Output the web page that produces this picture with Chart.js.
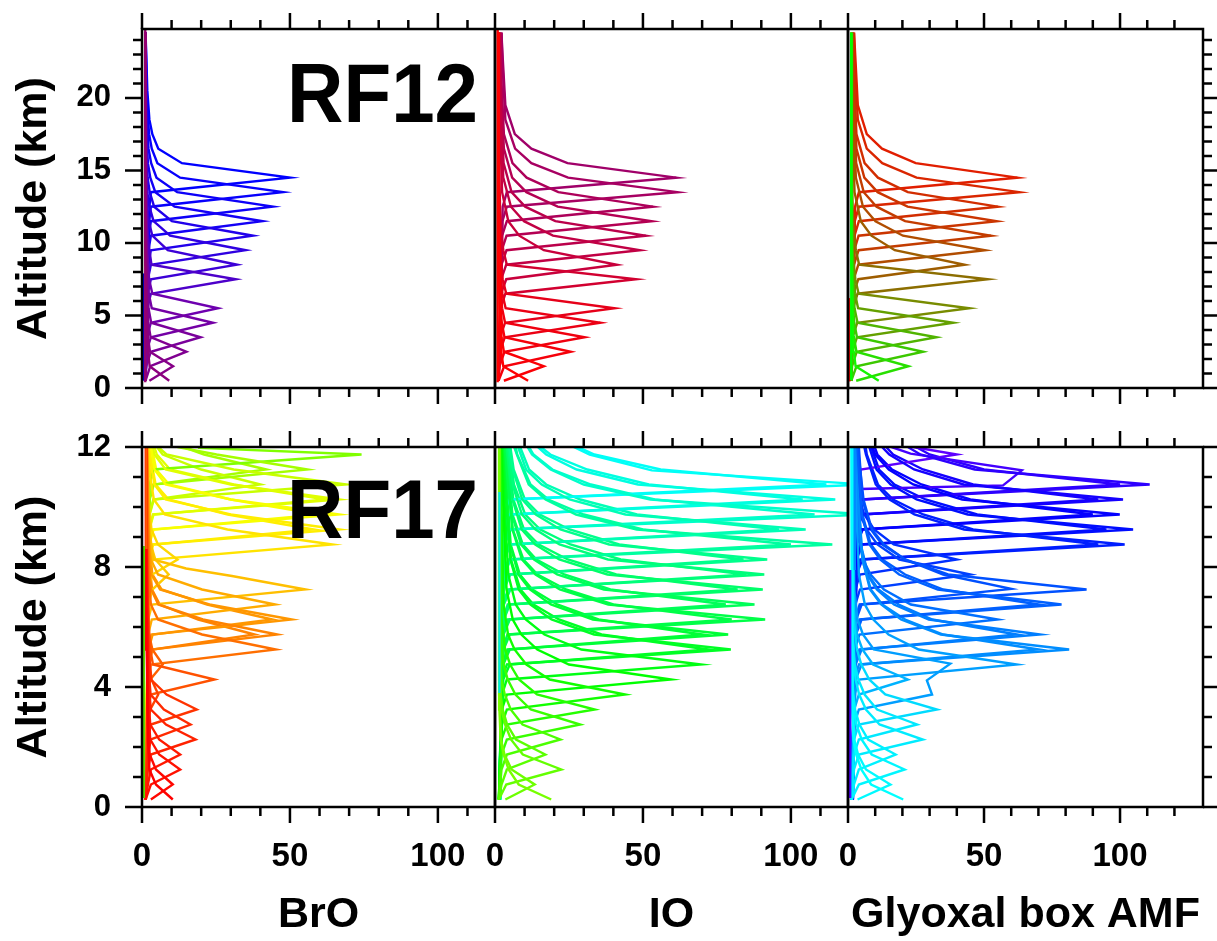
<!DOCTYPE html>
<html><head><meta charset="utf-8">
<script src="https://cdn.jsdelivr.net/npm/chart.js@4.4.1/dist/chart.umd.min.js"></script>
<style>
html,body{margin:0;padding:0;background:#fff;}
#wrap{position:relative;width:1217px;height:941px;overflow:hidden;background:#fff;}
canvas{position:absolute;left:0;top:0;}
.rf{position:absolute;font:bold 84px "Liberation Sans",Arial,sans-serif;line-height:84px;color:#000;transform:scaleX(0.93);transform-origin:0 0;white-space:nowrap;z-index:5;}
</style></head><body>
<div id="wrap">
<canvas id="c0" width="1217" height="941"></canvas>
<canvas id="c1" width="1217" height="941"></canvas>
<canvas id="c2" width="1217" height="941"></canvas>
<canvas id="c3" width="1217" height="941"></canvas>
<canvas id="c4" width="1217" height="941"></canvas>
<canvas id="c5" width="1217" height="941"></canvas>
<div class="rf" style="left:287px;top:51px">RF12</div>
<div class="rf" style="left:287px;top:467px">RF17</div>
</div>
<script>
// ===== DATA: each profile is a list of [box AMF, altitude km] =====
const yTicks12 = [0, 5, 10, 15, 20];
const yTicks17 = [0, 4, 8, 12];
const xTicks = [0, 50, 100];
const xTitles = ['BrO', 'IO', 'Glyoxal box AMF'];
const yTitle = 'Altitude (km)';
const flightLabels = ['RF12', 'RF17'];

const bro12 = [
 [[9.2,0.5],[2.6,1.5],[2.0,2.5],[1.6,4.5],[1.3,8.5],[1.2,24.5]],
 [[2.5,0.5],[10.5,1.5],[2.7,2.5],[2.0,3.5],[1.6,5.5],[1.3,9.5],[1.2,24.5]],
 [[1.2,0.5],[2.8,1.5],[15,2.5],[2.9,3.5],[2.1,4.5],[1.6,6.5],[1.3,10.5],[1.2,24.5]],
 [[1.2,0.5],[1.4,1.5],[3.0,2.5],[19.8,3.5],[3.1,4.5],[2.2,5.5],[1.7,7.5],[1.3,11.5],[1.2,24.5]],
 [[1.2,0.5],[1.5,2.5],[3.0,3.5],[24,4.5],[3.3,5.5],[2.3,6.5],[1.7,8.5],[1.4,11.5],[1.2,24.5]],
 [[1.2,0.5],[1.6,3.5],[3.0,4.5],[25.7,5.5],[3.5,6.5],[2.4,7.5],[1.8,9.5],[1.4,12.5],[1.2,24.5]],
 [[1.2,0.5],[1.8,5.5],[3.0,6.5],[31.7,7.5],[3.2,8.5],[2.5,9.5],[2.0,10.5],[1.6,12.5],[1.2,24.5]],
 [[1.2,0.5],[1.9,6.5],[3.0,7.5],[32.1,8.5],[8.7,9.5],[3.5,10.5],[2.3,11.5],[1.7,12.5],[1.4,14.5],[1.2,24.5]],
 [[1.2,0.5],[2.0,7.5],[3.0,8.5],[35,9.5],[9.5,10.5],[3.9,11.5],[2.5,12.5],[1.8,13.5],[1.5,15.5],[1.2,24.5]],
 [[1.2,0.5],[2.1,8.5],[3.0,9.5],[37.5,10.5],[10.1,11.5],[4.1,12.5],[2.6,13.5],[1.9,14.5],[1.5,16.5],[1.2,24.5]],
 [[1.2,0.5],[2.2,9.5],[3.0,10.5],[40.7,11.5],[11.0,12.5],[4.5,13.5],[2.8,14.5],[2.0,15.5],[1.5,17.5],[1.2,24.5]],
 [[1.2,0.5],[2.3,10.5],[3.0,11.5],[44.2,12.5],[11.9,13.5],[4.9,14.5],[3.1,15.5],[2.2,16.5],[1.6,18.5],[1.2,24.5]],
 [[1.2,0.5],[2.4,11.5],[3.0,12.5],[47.6,13.5],[12.9,14.5],[5.2,15.5],[3.3,16.5],[2.4,17.5],[1.7,19.5],[1.2,24.5]],
 [[1.2,0.5],[2.5,12.5],[3.0,13.5],[50,14.5],[13.5,15.5],[5.5,16.5],[3.5,17.5],[2.5,18.5],[1.8,20.5],[1.2,24.5]]
];
const io12 = [
 [[11.2,0.5],[2.8,1.5],[2.1,2.5],[1.9,3.5],[1.6,5.5],[1.3,9.5],[1.2,24.5]],
 [[3.0,0.5],[16.5,1.5],[3.0,2.5],[2.2,3.5],[1.9,4.5],[1.6,6.5],[1.3,10.5],[1.2,24.5]],
 [[1.2,0.5],[3.1,1.5],[25.6,2.5],[3.2,3.5],[2.3,4.5],[1.9,5.5],[1.6,7.5],[1.3,11.5],[1.2,24.5]],
 [[1.2,0.5],[1.5,1.5],[3.2,2.5],[30.3,3.5],[3.4,4.5],[2.4,5.5],[2.0,6.5],[1.6,8.5],[1.3,12.5],[1.2,24.5]],
 [[1.2,0.5],[1.6,2.5],[3.3,3.5],[35.6,4.5],[3.6,5.5],[2.5,6.5],[2.0,7.5],[1.6,9.5],[1.3,13.5],[1.2,24.5]],
 [[1.2,0.5],[1.7,3.5],[3.4,4.5],[40.4,5.5],[3.8,6.5],[2.6,7.5],[2.1,8.5],[1.6,10.5],[1.3,14.5],[1.2,24.5]],
 [[1.2,0.5],[1.9,5.5],[3.5,6.5],[47.7,7.5],[4.0,8.5],[2.8,9.5],[2.2,10.5],[1.7,12.5],[1.3,16.5],[1.2,24.5]],
 [[1.2,0.5],[2.0,6.5],[3.8,7.5],[41.2,8.5],[16.5,9.5],[8.2,10.5],[4.5,11.5],[2.4,13.5],[1.8,17.5],[1.5,24.5]],
 [[1.2,0.5],[2.1,7.5],[3.8,8.5],[49,9.5],[19.6,10.5],[9.8,11.5],[5.4,12.5],[2.8,14.5],[2.0,18.5],[1.6,24.5]],
 [[1.2,0.5],[2.2,8.5],[3.9,9.5],[51,10.5],[20.4,11.5],[10.2,12.5],[5.6,13.5],[2.9,15.5],[2.0,19.5],[1.7,24.5]],
 [[1.2,0.5],[2.3,9.5],[3.9,10.5],[53,11.5],[21.2,12.5],[10.6,13.5],[5.8,14.5],[3.0,16.5],[2.1,20.5],[1.8,24.5]],
 [[1.2,0.5],[2.4,10.5],[4.0,11.5],[53.4,12.5],[21.4,13.5],[10.7,14.5],[5.9,15.5],[3.0,17.5],[2.1,21.5],[1.9,24.5]],
 [[1.2,0.5],[2.5,11.5],[4.0,12.5],[61.7,13.5],[24.7,14.5],[12.3,15.5],[6.8,16.5],[3.5,18.5],[2.5,22.5],[2.2,24.5]],
 [[1.2,0.5],[2.6,12.5],[4.0,13.5],[61.3,14.5],[24.5,15.5],[12.3,16.5],[6.7,17.5],[3.5,19.5],[2.4,23.5],[2.2,24.5]]
];
const gly12 = [
 [[11.3,0.5],[2.8,1.5],[2.1,2.5],[1.9,3.5],[1.6,5.5],[1.3,9.5],[1.2,24.5]],
 [[3.0,0.5],[22.2,1.5],[3.1,2.5],[2.2,3.5],[1.9,4.5],[1.6,6.5],[1.3,10.5],[1.2,24.5]],
 [[1.2,0.5],[3.1,1.5],[27.6,2.5],[3.3,3.5],[2.3,4.5],[1.9,5.5],[1.6,7.5],[1.3,11.5],[1.2,24.5]],
 [[1.2,0.5],[1.5,1.5],[3.2,2.5],[32.5,3.5],[3.5,4.5],[2.4,5.5],[2.0,6.5],[1.6,8.5],[1.3,12.5],[1.2,24.5]],
 [[1.2,0.5],[1.6,2.5],[3.3,3.5],[38.7,4.5],[3.7,5.5],[2.6,6.5],[2.0,7.5],[1.6,9.5],[1.3,13.5],[1.2,24.5]],
 [[1.2,0.5],[1.7,3.5],[3.4,4.5],[44.6,5.5],[3.9,6.5],[2.7,7.5],[2.1,8.5],[1.6,10.5],[1.3,14.5],[1.2,24.5]],
 [[1.2,0.5],[1.9,5.5],[3.5,6.5],[51.4,7.5],[4.1,8.5],[2.9,9.5],[2.2,10.5],[1.7,12.5],[1.3,16.5],[1.2,24.5]],
 [[1.2,0.5],[2.0,6.5],[3.8,7.5],[42.9,8.5],[17.2,9.5],[8.6,10.5],[4.7,11.5],[2.4,13.5],[1.8,17.5],[1.5,24.5]],
 [[1.2,0.5],[2.1,7.5],[3.8,8.5],[50.4,9.5],[20.2,10.5],[10.1,11.5],[5.5,12.5],[2.9,14.5],[2.0,18.5],[1.6,24.5]],
 [[1.2,0.5],[2.2,8.5],[3.9,9.5],[52.6,10.5],[21.0,11.5],[10.5,12.5],[5.8,13.5],[3.0,15.5],[2.1,19.5],[1.7,24.5]],
 [[1.2,0.5],[2.3,9.5],[3.9,10.5],[54.7,11.5],[21.9,12.5],[10.9,13.5],[6.0,14.5],[3.1,16.5],[2.2,20.5],[1.8,24.5]],
 [[1.2,0.5],[2.4,10.5],[4.0,11.5],[55.1,12.5],[22.0,13.5],[11.0,14.5],[6.1,15.5],[3.1,17.5],[2.2,21.5],[1.9,24.5]],
 [[1.2,0.5],[2.5,11.5],[4.0,12.5],[63,13.5],[25.2,14.5],[12.6,15.5],[6.9,16.5],[3.6,18.5],[2.5,22.5],[2.2,24.5]],
 [[1.2,0.5],[2.6,12.5],[4.0,13.5],[62.3,14.5],[24.9,15.5],[12.5,16.5],[6.9,17.5],[3.6,19.5],[2.5,23.5],[2.2,24.5]]
];
const bro12v = [[[1.1,0.4],[1.1,24.7]], [[0.5,0.5],[0.5,7.9]]];
const io12v  = [[[0.9,0.4],[0.9,24.7]]];
const gly12v = [[[1.2,0.55],[1.2,24.5]], [[0.5,0.45],[0.5,6.2]]];

const bro17 = [
 [[10.4,0.25],[4.7,0.75],[2.5,1.25],[2.0,2.25],[1.6,5.25],[1.4,12]],
 [[3.0,0.25],[10.4,0.75],[4.7,1.25],[2.6,1.75],[2.0,2.75],[1.6,6.25],[1.4,12]],
 [[1.2,0.25],[3.0,0.75],[12.9,1.25],[5.8,1.75],[2.8,2.25],[2.0,3.25],[1.6,6.75],[1.4,12]],
 [[1.2,0.25],[2.0,0.75],[3.0,1.25],[12.9,1.75],[5.8,2.25],[2.8,2.75],[2.0,3.75],[1.6,7.25],[1.4,12]],
 [[1.2,0.25],[2.0,1.25],[3.0,1.75],[18.1,2.25],[8.1,2.75],[3.0,3.25],[2.1,4.25],[1.6,7.75],[1.4,12]],
 [[1.2,0.25],[2.0,1.75],[3.0,2.25],[16.4,2.75],[7.4,3.25],[2.9,3.75],[2.1,4.75],[1.6,8.25],[1.4,12]],
 [[1.2,0.25],[2.0,2.25],[3.0,2.75],[18.5,3.25],[8.3,3.75],[3.0,4.25],[2.1,5.25],[1.6,8.75],[1.4,12]],
 [[1.2,0.25],[2.0,2.75],[2.8,3.25],[5.5,3.75],[3.2,4.25],[2.2,5.25],[1.6,9.25],[1.4,12]],
 [[1.2,0.25],[2.0,3.25],[3.0,3.75],[24.5,4.25],[3.7,4.75],[2.8,5.25],[2.1,6.25],[1.6,9.75],[1.4,12]],
 [[1.2,0.25],[2.0,3.75],[2.8,4.25],[7.0,4.75],[3.5,5.25],[2.4,5.75],[1.7,8.25],[1.4,12]],
 [[1.2,0.25],[2.0,4.25],[3.0,4.75],[45.2,5.25],[20.3,5.75],[5.4,6.25],[3.0,6.75],[2.2,7.75],[1.6,12]],
 [[1.2,0.25],[2.0,4.75],[3.2,5.25],[45.7,5.75],[20.6,6.25],[5.5,6.75],[3.1,7.25],[2.2,8.25],[1.6,12]],
 [[1.2,0.25],[2.0,5.25],[3.2,5.75],[50.6,6.25],[22.8,6.75],[6.1,7.25],[3.2,7.75],[2.3,8.75],[1.7,12]],
 [[1.2,0.25],[2.1,5.75],[3.3,6.25],[45,6.75],[20.3,7.25],[5.4,7.75],[3.0,8.25],[2.2,9.25],[1.7,12]],
 [[1.2,0.25],[2.1,6.25],[3.4,6.75],[55.2,7.25],[30.4,7.7],[14.9,7.95],[3.8,8.25],[2.5,9.25],[1.8,12]],
 [[1.2,0.25],[2.2,6.75],[3.5,7.25],[9,7.75],[4.5,8.25],[3.0,8.75],[2.0,10.25],[1.8,12]],
 [[1.2,0.25],[2.2,7.25],[3.5,7.75],[12,8.25],[5.4,8.75],[3.2,9.25],[2.2,10.25],[1.8,12]],
 [[1.2,0.25],[2.3,7.75],[3.6,8.25],[64.3,8.75],[28.9,9.25],[7.7,9.75],[4.0,10.25],[2.8,11.0],[2.0,12]],
 [[1.2,0.25],[2.3,8.25],[3.6,8.75],[66.6,9.25],[30,9.75],[8,10.25],[4.2,10.75],[2.9,11.5],[2.2,12]],
 [[1.2,0.25],[2.4,8.75],[3.7,9.25],[66.6,9.75],[30,10.25],[8,10.75],[4.2,11.25],[3.0,12]],
 [[1.2,0.25],[2.4,9.25],[3.7,9.75],[66.6,10.25],[30,10.75],[8,11.25],[4.2,11.75],[3.6,12]],
 [[1.2,0.25],[2.5,9.75],[3.8,10.25],[69,10.75],[31,11.25],[8.3,11.75],[5.5,12]],
 [[1.2,0.25],[2.5,10.25],[3.8,10.75],[55.9,11.25],[25.2,11.75],[12,12]],
 [[1.2,0.25],[2.6,10.75],[3.8,11.25],[74.2,11.75],[18.9,11.97]]
];
const bro17b = [
 [[1.3,0.25],[2.2,4.75],[3.6,5.25],[38,5.75],[19,6.25],[6,6.75],[3.4,7.25],[2.4,8.25],[1.7,12]],
 [[1.3,0.25],[2.2,5.25],[3.6,5.75],[44,6.25],[22,6.75],[6.6,7.25],[3.5,7.75],[2.5,8.75],[1.8,12]],
 [[1.3,0.25],[2.4,8.25],[3.8,8.75],[58,9.25],[29,9.75],[9,10.25],[4.6,10.75],[3.2,11.5],[2.4,12]],
 [[1.3,0.25],[2.5,8.75],[3.9,9.25],[60,9.75],[30,10.25],[9.2,10.75],[4.8,11.25],[3.3,12]],
 [[1.3,0.25],[2.5,9.25],[3.9,9.75],[62,10.25],[31,10.75],[9.5,11.25],[5,11.75],[4.2,12]],
 [[1.3,0.25],[2.6,9.75],[4,10.25],[40,10.75],[20,11.25],[7,11.75],[5,12]],
 [[1.3,0.25],[2.6,10.25],[4,10.75],[42,11.25],[21,11.75],[14,12]]
];
const io17 = [
 [[19,0.25],[8.0,0.75],[4.6,1.25],[2.9,1.75],[1.9,2.25],[1.5,3.25],[1.4,12]],
 [[3.5,0.25],[13.4,0.75],[5.6,1.25],[3.2,1.75],[2.0,2.25],[1.5,3.75],[1.4,12]],
 [[1.3,0.25],[3.8,0.75],[22.4,1.25],[9.4,1.75],[5.4,2.25],[3.4,2.75],[2.2,3.25],[1.6,4.25],[1.4,12]],
 [[1.3,0.25],[2.2,0.75],[4,1.25],[17,1.75],[7.1,2.25],[4.1,2.75],[2.6,3.25],[1.9,3.75],[1.6,4.75],[1.5,12]],
 [[1.3,0.25],[2.2,1.25],[4,1.75],[22.1,2.25],[9.3,2.75],[5.3,3.25],[3.3,3.75],[2.2,4.25],[1.7,5.25],[1.5,12]],
 [[1.3,0.25],[2.2,1.75],[4,2.25],[28.8,2.75],[12.1,3.25],[6.9,3.75],[4.3,4.25],[2.9,4.75],[1.9,5.75],[1.6,12]],
 [[1.3,0.25],[2.2,2.25],[4,2.75],[33.7,3.25],[14.2,3.75],[8.1,4.25],[5.1,4.75],[3.4,5.25],[2.2,6.25],[1.7,12]],
 [[1.3,0.25],[2.3,2.75],[4,3.25],[44,3.75],[18.5,4.25],[10.6,4.75],[6.6,5.25],[4.4,5.75],[2.9,6.75],[1.8,12]],
 [[1.3,0.25],[2.3,3.25],[4,3.75],[59.5,4.25],[25,4.75],[14.3,5.25],[8.9,5.75],[6,6.25],[3.9,7.25],[2,12]],
 [[1.3,0.25],[2.4,3.75],[4,4.25],[69.6,4.75],[29.2,5.25],[16.7,5.75],[10.4,6.25],[7,6.75],[4.5,7.75],[2.2,12]],
 [[1.4,0.25],[2.4,4.25],[4,4.75],[79.7,5.25],[33.5,5.75],[19.1,6.25],[12,6.75],[8,7.25],[5.2,8.25],[2.4,12]],
 [[1.4,0.25],[2.5,4.75],[4.2,5.25],[78.8,5.75],[33.1,6.25],[18.9,6.75],[11.8,7.25],[7.9,7.75],[5.1,8.75],[2.6,12]],
 [[1.4,0.25],[2.5,5.25],[4.2,5.75],[91.3,6.25],[38.3,6.75],[21.9,7.25],[13.7,7.75],[9.1,8.25],[5.9,9.25],[3,12]],
 [[1.4,0.25],[2.6,5.75],[4.3,6.25],[87.7,6.75],[36.8,7.25],[21,7.75],[13.2,8.25],[8.8,8.75],[5.7,9.75],[3.2,12]],
 [[1.4,0.25],[2.6,6.25],[4.3,6.75],[90.5,7.25],[38,7.75],[21.7,8.25],[13.6,8.75],[9,9.25],[5.9,10.25],[3.6,12]],
 [[1.5,0.25],[2.7,6.75],[4.4,7.25],[91,7.75],[38.2,8.25],[21.8,8.75],[13.7,9.25],[9.1,9.75],[5.9,10.75],[4,12]],
 [[1.5,0.25],[2.7,7.25],[4.4,7.75],[92,8.25],[38.6,8.75],[22.1,9.25],[13.8,9.75],[9.2,10.25],[6,11.25],[4.6,12]],
 [[1.5,0.25],[2.8,7.75],[4.5,8.25],[114,8.75],[47.9,9.25],[27.4,9.75],[17.1,10.25],[11.4,10.75],[7.4,11.75],[6.5,12]],
 [[1.5,0.25],[2.8,8.25],[4.5,8.75],[105,9.25],[44.1,9.75],[25.2,10.25],[15.8,10.75],[10.5,11.25],[7.8,12]],
 [[1.5,0.25],[2.9,8.75],[4.6,9.25],[125,9.75],[52.5,10.25],[30,10.75],[18.8,11.25],[12.5,11.75],[11,12]],
 [[1.5,0.25],[2.9,9.25],[4.6,9.75],[115,10.25],[48.3,10.75],[27.6,11.25],[17.3,11.75],[14.5,12]],
 [[1.6,0.25],[3.0,9.75],[4.7,10.25],[125,10.75],[53,11.22],[32,11.75],[26.6,12]]
];
const io17b = [
 [[1.6,0.25],[2.8,4.25],[5,4.75],[72,5.25],[36,5.75],[21.6,6.25],[13,6.75],[8.6,7.25],[5.4,8.25],[2.8,12]],
 [[1.6,0.25],[2.8,4.75],[5,5.25],[70,5.75],[35,6.25],[21,6.75],[12.6,7.25],[8.4,7.75],[5.3,8.75],[3,12]],
 [[1.6,0.25],[2.9,5.25],[5,5.75],[80,6.25],[40,6.75],[24,7.25],[14.4,7.75],[9.6,8.25],[6,9.25],[3.4,12]],
 [[1.6,0.25],[2.9,5.75],[5,6.25],[78,6.75],[39,7.25],[23.4,7.75],[14,8.25],[9.4,8.75],[5.9,9.75],[3.7,12]],
 [[1.6,0.25],[3,6.25],[5,6.75],[82,7.25],[41,7.75],[24.6,8.25],[14.8,8.75],[9.8,9.25],[6.2,10.25],[4.2,12]],
 [[1.7,0.25],[3,6.75],[5.2,7.25],[85,7.75],[42.5,8.25],[25.5,8.75],[15.3,9.25],[10.2,9.75],[6.4,10.75],[4.8,12]],
 [[1.7,0.25],[3,7.25],[5.2,7.75],[84,8.25],[42,8.75],[25.2,9.25],[15.1,9.75],[10.1,10.25],[6.3,11.25],[5.2,12]],
 [[1.7,0.25],[3.1,7.75],[5.3,8.25],[100,8.75],[50,9.25],[30,9.75],[18,10.25],[12,10.75],[7.5,11.75],[7,12]],
 [[1.7,0.25],[3.1,8.25],[5.3,8.75],[96,9.25],[48,9.75],[28.8,10.25],[17.3,10.75],[11.5,11.25],[8.5,12]],
 [[1.8,0.25],[3.2,8.75],[5.4,9.25],[108,9.75],[54,10.25],[32.4,10.75],[19.4,11.25],[13,11.75],[11.5,12]],
 [[1.8,0.25],[3.2,9.25],[5.4,9.75],[104,10.25],[52,10.75],[31.2,11.25],[18.7,11.75],[15.5,12]],
 [[1.8,0.25],[3.3,9.75],[5.5,10.25],[112,10.75],[56,11.25],[33.6,11.75],[28,12]]
];
const gly17 = [
 [[20.3,0.25],[8.5,0.75],[4.9,1.25],[3,1.75],[2,2.25],[1.5,3.25],[1.4,12]],
 [[3.5,0.25],[15.6,0.75],[6.6,1.25],[3.7,1.75],[2.3,2.25],[1.6,3.75],[1.4,12]],
 [[1.3,0.25],[4,0.75],[20.8,1.25],[8.7,1.75],[5,2.25],[3.1,2.75],[2.1,3.25],[1.6,4.25],[1.4,12]],
 [[1.3,0.25],[2.2,0.75],[4,1.25],[17.5,1.75],[7.4,2.25],[4.2,2.75],[2.6,3.25],[1.9,3.75],[1.6,4.75],[1.5,12]],
 [[1.3,0.25],[2.2,1.25],[4,1.75],[27.5,2.25],[11.6,2.75],[6.6,3.25],[4.1,3.75],[2.8,4.25],[1.8,5.25],[1.5,12]],
 [[1.3,0.25],[2.2,1.75],[4,2.25],[25.4,2.75],[10.7,3.25],[6.1,3.75],[3.8,4.25],[2.5,4.75],[1.8,5.75],[1.6,12]],
 [[1.3,0.25],[2.2,2.25],[4,2.75],[32.7,3.25],[13.7,3.75],[7.8,4.25],[4.9,4.75],[3.3,5.25],[2.1,6.25],[1.7,12]],
 [[1.3,0.25],[2.3,2.75],[4,3.25],[30.9,3.75],[29,4.22],[37.6,4.78],[9.5,5.25],[5.5,5.75],[3.5,6.25],[2.3,7.25],[1.8,12]],
 [[1.3,0.25],[2.3,3.25],[4,3.75],[22,4.25],[9.2,4.75],[5.3,5.25],[3.3,5.75],[2.2,6.75],[1.8,12]],
 [[1.3,0.25],[2.4,3.75],[4,4.25],[62,4.75],[26,5.25],[14.9,5.75],[9.3,6.25],[6.2,6.75],[4,7.75],[2.2,12]],
 [[1.4,0.25],[2.4,4.25],[4,4.75],[81.3,5.25],[34.1,5.75],[19.5,6.25],[12.2,6.75],[8.1,7.25],[5.3,8.25],[2.4,12]],
 [[1.4,0.25],[2.5,4.75],[4.2,5.25],[70.6,5.75],[29.7,6.25],[16.9,6.75],[10.6,7.25],[7.1,7.75],[4.6,8.75],[2.6,12]],
 [[1.4,0.25],[2.5,5.25],[4.2,5.75],[55,6.25],[23.1,6.75],[13.2,7.25],[8.3,7.75],[5.5,8.25],[3.6,9.25],[2.8,12]],
 [[1.4,0.25],[2.6,5.75],[4.3,6.25],[78.5,6.75],[33,7.25],[18.8,7.75],[11.8,8.25],[7.9,8.75],[5.1,9.75],[3.2,12]],
 [[1.4,0.25],[2.6,6.25],[4.3,6.75],[87.7,7.25],[36.8,7.75],[21,8.25],[13.2,8.75],[8.8,9.25],[5.7,10.25],[3.6,12]],
 [[1.5,0.25],[2.7,6.75],[4.4,7.25],[45,7.75],[18.9,8.25],[10.8,8.75],[6.8,9.25],[4.5,9.75],[3.4,10.75],[3,12]],
 [[1.5,0.25],[2.7,7.25],[4.4,7.75],[40,8.25],[16.8,8.75],[9.6,9.25],[6,9.75],[4.2,10.25],[3.4,11.25],[3.2,12]],
 [[1.5,0.25],[2.8,7.75],[4.5,8.25],[101.7,8.75],[42.7,9.25],[24.4,9.75],[15.3,10.25],[10.2,10.75],[6.6,11.75],[6,12]],
 [[1.5,0.25],[2.8,8.25],[4.5,8.75],[104.8,9.25],[44,9.75],[25.2,10.25],[15.7,10.75],[10.5,11.25],[7.8,12]],
 [[1.5,0.25],[2.9,8.75],[4.6,9.25],[99.9,9.75],[42,10.25],[24,10.75],[15,11.25],[10,11.75],[9,12]],
 [[1.5,0.25],[2.9,9.25],[4.6,9.75],[101.1,10.25],[42.5,10.75],[24.3,11.25],[15.2,11.75],[12.5,12]],
 [[1.6,0.25],[3,9.75],[4.7,10.25],[110.9,10.75],[46.6,11.25],[26.6,11.75],[22,12]],
 [[1.6,0.25],[3,10.0],[4.7,10.6],[57,10.72],[63.9,11.22],[23,11.78],[16,12]],
 [[1.6,0.25],[3,10.75],[4.7,11.25],[40,11.75],[24,12]]
];
const gly17b = [
 [[1.6,0.25],[2.8,4.25],[5,4.75],[70,5.25],[35,5.75],[21,6.25],[12.6,6.75],[8.4,7.25],[5.3,8.25],[2.8,12]],
 [[1.6,0.25],[2.8,4.75],[5,5.25],[62,5.75],[31,6.25],[18.6,6.75],[11.2,7.25],[7.4,7.75],[4.7,8.75],[3,12]],
 [[1.6,0.25],[2.9,5.75],[5,6.25],[70,6.75],[35,7.25],[21,7.75],[12.6,8.25],[8.4,8.75],[5.3,9.75],[3.6,12]],
 [[1.6,0.25],[3,6.25],[5,6.75],[60,7.27],[35,7.75],[21,8.25],[12.6,8.75],[8.4,9.25],[5.3,10.25],[4,12]],
 [[1.7,0.25],[3.1,7.75],[5.3,8.25],[92,8.75],[46,9.25],[27.6,9.75],[16.6,10.25],[11,10.75],[6.9,11.75],[6.5,12]],
 [[1.7,0.25],[3.1,8.25],[5.3,8.75],[95,9.25],[47.5,9.75],[28.5,10.25],[17.1,10.75],[11.4,11.25],[8.5,12]],
 [[1.8,0.25],[3.2,8.75],[5.4,9.25],[90,9.75],[45,10.25],[27,10.75],[16.2,11.25],[10.8,11.75],[9.8,12]],
 [[1.8,0.25],[3.2,9.25],[5.4,9.75],[92,10.25],[46,10.75],[27.6,11.25],[16.6,11.75],[14,12]],
 [[1.8,0.25],[3.3,9.75],[5.5,10.25],[100,10.75],[50,11.25],[30,11.75],[25,12]]
];
const bro17v = [[[1.5,8.6],[1.5,12]], [[0.6,0.3],[0.6,8.7]]];
const io17v  = [[[1.5,3.8],[1.5,10.5]]];
const gly17v = [[[0.8,0.3],[0.8,7.9]], [[2.5,7.9],[2.5,12]]];

// ===== STYLE / LAYOUT =====
const FONT = '"Liberation Sans", Arial, Helvetica, sans-serif';
const W = 1217, H = 941;
const colEdges = [[142,495],[495,848],[848,1203]];
const rowEdges = [[29,388],[447,807]];
const xMaxByCol = [119.3, 119.3, 130.5];
const yMaxByRow = [24.75, 12];
const xMinorByCol = [[0,10,20,30,40,50,60,70,80,90,100,110],[0,10,20,30,40,50,60,70,80,90,100,110],[0,10,20,30,40,50,60,70,80,90,100,110,120]];
const yMinorByRow = [[0,1,2,3,4,5,6,7,8,9,10,11,12,13,14,15,16,17,18,19,20,21,22,23,24],[0,1,2,3,4,5,6,7,8,9,10,11,12]];

const colorStops = {
 bro12: {mode:'rgb', s:[[0.5,140,0,125],[5.5,110,0,175],[8.5,60,0,215],[11.5,20,0,245],[14.5,0,0,255]]},
 io12:  {mode:'rgb', s:[[0.5,255,0,0],[5.5,230,0,25],[8.5,200,0,60],[14.5,160,0,105]]},
 gly12: {mode:'rgb', s:[[0.5,20,245,0],[2.5,60,200,0],[5.5,120,140,0],[7.5,140,110,0],[10.5,195,60,0],[14.5,225,30,0]]},
 bro17: {mode:'hue', s:[[0.25,0],[3.25,12],[5.25,26],[7.25,45],[9.25,56],[10.75,73],[11.75,90]]},
 io17:  {mode:'hue', s:[[0.25,92],[2,100],[4,118],[6,135],[8.5,155],[10.75,178]]},
 gly17: {mode:'hue', s:[[0.25,180],[3,186],[5,205],[7.25,221],[8.75,233],[10.25,245],[11.75,262]]}
};
const verticalColors = {
 bro12: ['rgb(150,0,110)','rgb(0,0,230)'],
 io12: ['rgb(255,0,0)'],
 gly12: ['rgb(0,255,0)','rgb(230,0,0)'],
 bro17: ['rgb(255,90,0)','rgb(90,220,0)'],
 io17: ['rgb(0,230,230)'],
 gly17: ['rgb(80,0,255)','rgb(0,140,255)']
};

function colorAt(st, h) {
  const s = st.s; let i = 0;
  while (i < s.length - 2 && h > s[i+1][0]) i++;
  const a = s[i], b = s[i+1];
  let t = (h - a[0]) / (b[0] - a[0]); t = Math.max(0, Math.min(1, t));
  if (st.mode === 'hue') return 'hsl(' + (a[1] + (b[1]-a[1])*t).toFixed(1) + ',100%,50%)';
  const c = [1,2,3].map(k => Math.round(a[k] + (b[k]-a[k])*t));
  return 'rgb(' + c.join(',') + ')';
}
function lineDs(points, color, width) {
  return { data: points.map(([x,y]) => ({x, y})), borderColor: color, borderWidth: width,
           showLine: true, pointRadius: 0, pointHoverRadius: 0, fill: false, tension: 0 };
}
function profileDatasets(profiles, st) {
  return profiles.map(p => {
    let pk = p[0]; for (const q of p) if (q[0] > pk[0]) pk = q;
    return lineDs(p, colorAt(st, pk[1]), 2.4);
  });
}

const framePlugin = {
  id: 'frame',
  afterDatasetsDraw(chart, args, o) {
    const {ctx, chartArea: a} = chart;
    const xs = chart.scales.x, ys = chart.scales.y;
    ctx.save();
    ctx.strokeStyle = '#000'; ctx.lineWidth = 2.5; ctx.lineCap = 'butt';
    ctx.strokeRect(a.left, a.top, a.right - a.left, a.bottom - a.top);
    ctx.beginPath();
    for (const v of o.xMinor) {
      const px = xs.getPixelForValue(v);
      const L = o.xMajor.includes(v) ? 16 : 9;
      ctx.moveTo(px, a.top); ctx.lineTo(px, a.top - L);
      ctx.moveTo(px, a.bottom); ctx.lineTo(px, a.bottom + L);
    }
    for (const v of o.yMinor) {
      const py = ys.getPixelForValue(v);
      const L = o.yMajor.includes(v) ? 17 : 9;
      if (o.left) { ctx.moveTo(a.left, py); ctx.lineTo(a.left - L, py); }
      if (o.right) { ctx.moveTo(a.right, py); ctx.lineTo(a.right + L, py); }
    }
    ctx.stroke();
    ctx.restore();
  }
};

const panels = [
  {id:'c0', row:0, col:0, sets:[bro12], key:'bro12', vert:bro12v},
  {id:'c1', row:0, col:1, sets:[io12], key:'io12', vert:io12v},
  {id:'c2', row:0, col:2, sets:[gly12], key:'gly12', vert:gly12v},
  {id:'c3', row:1, col:0, sets:[bro17, bro17b], key:'bro17', vert:bro17v},
  {id:'c4', row:1, col:1, sets:[io17, io17b], key:'io17', vert:io17v},
  {id:'c5', row:1, col:2, sets:[gly17, gly17b], key:'gly17', vert:gly17v}
];

for (const P of panels) {
  const [L, R] = colEdges[P.col];
  const [T, B] = rowEdges[P.row];
  const showY = P.col === 0, showX = P.row === 1;
  let datasets = [];
  P.vert.forEach((v, i) => datasets.push(lineDs(v, verticalColors[P.key][i], 2.4)));
  P.sets.forEach(s => { datasets = datasets.concat(profileDatasets(s, colorStops[P.key])); });
  new Chart(document.getElementById(P.id), {
    type: 'scatter',
    data: { datasets },
    options: {
      responsive: false, animation: false, devicePixelRatio: 1, events: [],
      layout: { padding: { left: showY ? 0 : L, right: W - R, top: T, bottom: showX ? 0 : H - B } },
      plugins: {
        legend: { display: false }, tooltip: { enabled: false },
        frame: { left: P.col === 0, right: P.col === 2, xMinor: xMinorByCol[P.col], xMajor: xTicks,
                 yMinor: yMinorByRow[P.row], yMajor: P.row === 0 ? yTicks12 : yTicks17 }
      },
      scales: {
        x: {
          type: 'linear', min: 0, max: xMaxByCol[P.col], display: showX, position: 'bottom', bounds: 'data',
          afterFit: s => { s.height = showX ? H - rowEdges[1][1] : 0; },
          afterBuildTicks: s => { s.ticks = xTicks.map(v => ({value: v})); },
          grid: { display: false, drawTicks: true, tickLength: 30 }, border: { display: false },
          ticks: { color: '#000', font: { family: FONT, size: 33, weight: 'bold' }, padding: 0, maxRotation: 0, autoSkip: false },
          title: { display: true, text: xTitles[P.col], color: '#000', font: { family: FONT, size: 43, weight: 'bold' }, padding: { top: 0, bottom: 0 } }
        },
        y: {
          type: 'linear', min: 0, max: yMaxByRow[P.row], display: showY, bounds: 'data',
          afterFit: s => { s.width = showY ? colEdges[0][0] : 0; },
          afterBuildTicks: s => { s.ticks = (P.row === 0 ? yTicks12 : yTicks17).map(v => ({value: v})); },
          grid: { display: false, drawTicks: true, tickLength: 31 }, border: { display: false },
          ticks: { color: '#000', font: { family: FONT, size: 31, weight: 'bold' }, padding: 0 },
          title: { display: true, text: yTitle, color: '#000', font: { family: FONT, size: 43, weight: 'bold' }, padding: { top: 8, bottom: 0 } }
        }
      }
    },
    plugins: [framePlugin]
  });
}
</script>
</body></html>
